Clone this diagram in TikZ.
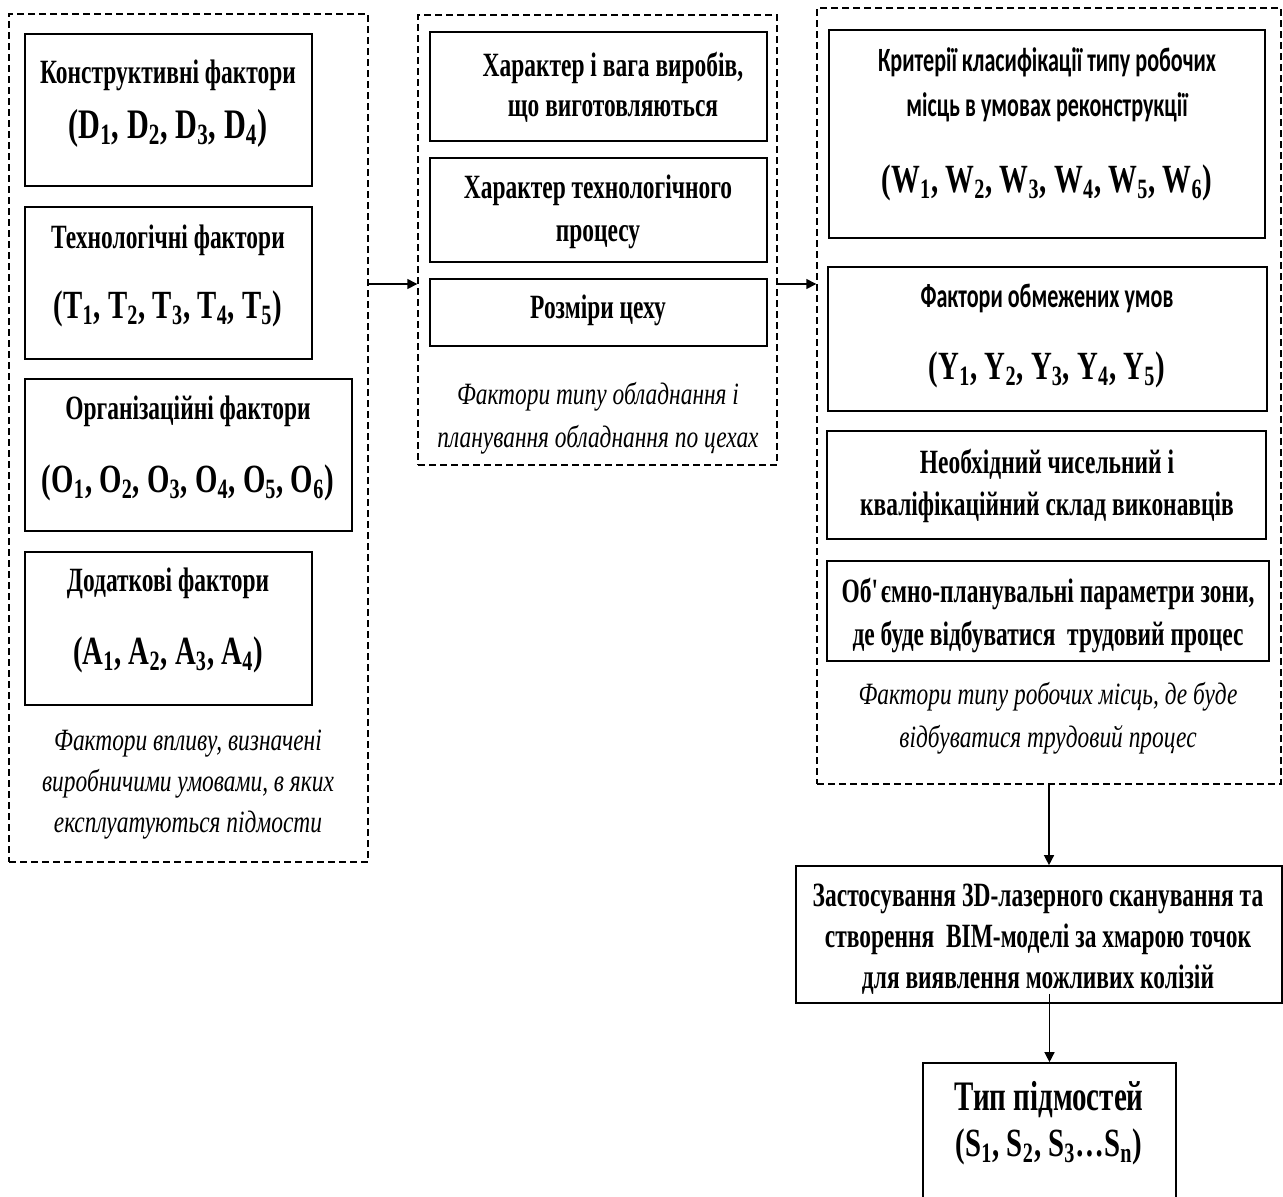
\documentclass[tikz,border=0pt]{standalone}
\usepackage{fontspec}
\setmainfont{Liberation Serif}[FakeStretch=0.69, ItalicFeatures={FakeStretch=0.755}]
\newfontfamily\idxf{Liberation Serif}[FakeStretch=0.72]
\newfontfamily\sansb{Carlito}[FakeStretch=0.65]
\usetikzlibrary{arrows.meta,fit,calc}
\newcommand{\sbs}[1]{\textsubscript{#1}}
\begin{document}
\begin{tikzpicture}[x=0.5pt,y=-0.5pt,
  dbox/.style={draw, dash pattern=on 3.5pt off 2pt, line width=0.7pt, inner sep=0pt},
  sbox/.style={draw, line width=0.85pt, inner sep=0pt},
  ttl/.style={font=\bfseries\fontsize{17}{21}\selectfont, inner sep=0pt, align=center},
  idx/.style={font=\idxf\bfseries\fontsize{20}{24}\selectfont, inner sep=0pt},
  capt/.style={font=\itshape\fontsize{15.5}{20.5}\selectfont, inner sep=0pt, align=center},
  san/.style={font=\sansb\bfseries\fontsize{17}{22.5}\selectfont, inner sep=0pt, align=center},
  arr/.style={-{Triangle[length=5pt,width=5pt]}, line width=0.7pt}]
\useasboundingbox (0,0) rectangle (1283,1196);
% left group
\node[dbox, fit={(9,14) (368,862)}] (L) {};
\node[sbox, fit={(25,34) (312,186)}] (bD) {};
\node[sbox, fit={(25,207) (312,359)}] (bT) {};
\node[sbox, fit={(25,379) (352,531)}] (bO) {};
\node[sbox, fit={(25,552) (312,705)}] (bA) {};
\node[ttl] (tD1) at (168,75) {Конструктивні фактори};
\node[idx, font=\idxf\bfseries\fontsize{21}{24}\selectfont] (tD2) at (168,128) {(D\sbs{1}, D\sbs{2}, D\sbs{3}, D\sbs{4})};
\node[ttl] (tT1) at (168,240) {Технологічні фактори};
\node[idx] (tT2) at (168,309) {(T\sbs{1}, T\sbs{2}, T\sbs{3}, T\sbs{4}, T\sbs{5})};
\node[ttl] (tO1) at (188,411) {Організаційні фактори};
\node[idx] (tO2) at (188,483) {(O\sbs{1}, O\sbs{2}, O\sbs{3}, O\sbs{4}, O\sbs{5}, O\sbs{6})};
\node[ttl] (tA1) at (168,583) {Додаткові фактори};
\node[idx] (tA2) at (168,655) {(A\sbs{1}, A\sbs{2}, A\sbs{3}, A\sbs{4})};
\node[capt] (cL) at (188,785) {Фактори впливу, визначені\\виробничими умовами, в яких\\експлуатуються підмости};
% middle group
\node[dbox, fit={(418,15) (777,465)}] (M) {};
\node[sbox, fit={(430,32) (767,141)}] (bM1) {};
\node[sbox, fit={(430,158) (767,262)}] (bM2) {};
\node[sbox, fit={(430,279) (767,346)}] (bM3) {};
\node[ttl, font=\bfseries\fontsize{17}{20}\selectfont] (tM1) at (613,87) {Характер і вага виробів,\\що виготовляються};
\node[ttl, font=\bfseries\fontsize{17}{21.5}\selectfont] (tM2) at (598,211.5) {Характер технологічного\\процесу};
\node[ttl] (tM3) at (598,310) {Розміри цеху};
\node[capt, font=\itshape\fontsize{15.5}{21.5}\selectfont] (cM) at (598,418) {Фактори типу обладнання і\\планування обладнання по цехах};
% right group
\node[dbox, fit={(817,8) (1281,784)}] (R) {};
\node[sbox, fit={(829,30) (1265,238)}] (bW) {};
\node[sbox, fit={(828,267) (1267,411)}] (bY) {};
\node[sbox, fit={(827,431) (1266,539)}] (bN) {};
\node[sbox, fit={(827,561) (1269,661)}] (bV) {};
\node[san] (tW1) at (1047,84.5) {Критерії класифікації типу робочих\\місць в умовах реконструкції};
\node[idx] (tW2) at (1047,183) {(W\sbs{1}, W\sbs{2}, W\sbs{3}, W\sbs{4}, W\sbs{5}, W\sbs{6})};
\node[san] (tY1) at (1047,298) {Фактори обмежених умов};
\node[idx] (tY2) at (1047,370) {(Y\sbs{1}, Y\sbs{2}, Y\sbs{3}, Y\sbs{4}, Y\sbs{5})};
\node[ttl] (tN) at (1047,486) {Необхідний чисельний і\\кваліфікаційний склад виконавців};
\node[ttl, font=\bfseries\fontsize{17}{21.5}\selectfont] (tV) at (1048,615.5) {Об\textquotesingle ємно-планувальні параметри зони,\\де буде відбуватися\ \ трудовий процес};
\node[capt, font=\itshape\fontsize{15.5}{21.5}\selectfont] (cR) at (1048,718.5) {Фактори типу робочих місць, де буде\\відбуватися трудовий процес};
% bottom
\node[sbox, fit={(796,866) (1282,1003)}] (bim) {};
\node[ttl, font=\bfseries\fontsize{17}{20.5}\selectfont] (tB) at (1038,939) {Застосування 3D-лазерного сканування та\\створення\ \ BIM-моделі за хмарою точок\\для виявлення можливих колізій};
\node[sbox, fit={(923,1063) (1176,1200)}] (bS) {};
\node[ttl, font=\bfseries\fontsize{21}{25}\selectfont] (tS1) at (1049,1100) {Тип підмостей};
\node[idx, font=\idxf\bfseries\fontsize{20}{23}\selectfont] (tS2) at (1049,1147) {(S\sbs{1}, S\sbs{2}, S\sbs{3}…S\sbs{n})};
% connectors
\coordinate (r1) at (0,284);
\draw[arr] (L.east |- r1) -- (M.west |- r1);
\draw[arr] (M.east |- r1) -- (R.west |- r1);
\draw[arr] (R.south) -- (R.south |- bim.north);
\draw[arr] ($(bS.north |- bim.south)+(0,-10)$) -- (bS.north);
\end{tikzpicture}
\end{document}
